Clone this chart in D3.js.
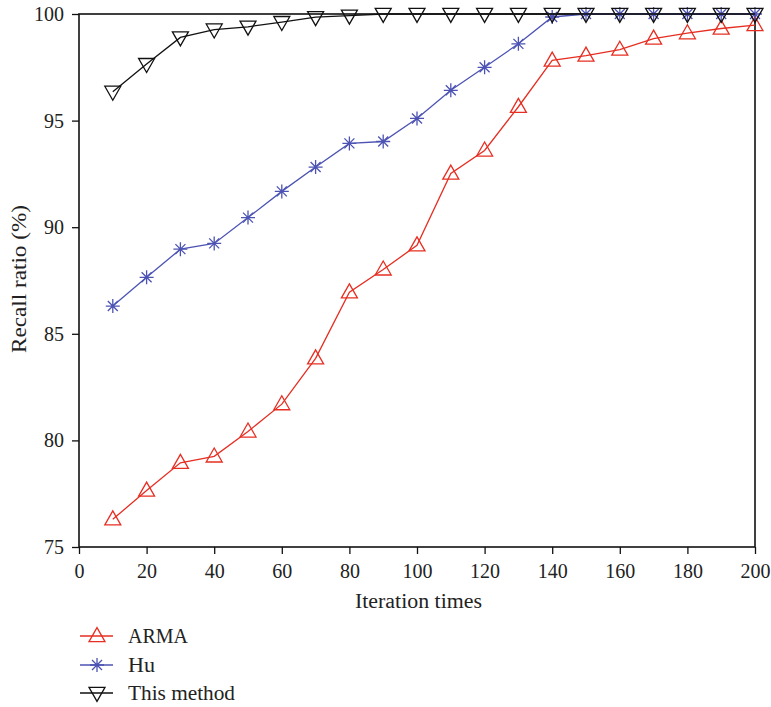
<!DOCTYPE html>
<html><head><meta charset="utf-8">
<script src="https://cdn.jsdelivr.net/npm/d3@7"></script>
<style>body{margin:0;background:#fff}svg{display:block}text{font-family:"Liberation Serif","Times New Roman",serif;fill:#222}</style>
</head><body><svg id="c" width="771" height="707"></svg>
<script>
const iterations = [10,20,30,40,50,60,70,80,90,100,110,120,130,140,150,160,170,180,190,200];
const armaValues = [76.3,77.65,78.95,79.25,80.42,81.7,83.85,86.95,88.02,89.15,92.52,93.6,95.65,97.82,98.05,98.33,98.85,99.1,99.32,99.48];
const huValues = [86.3,87.65,88.97,89.24,90.45,91.68,92.82,93.93,94.02,95.1,96.42,97.5,98.6,99.86,100,100,100,100,100,100];
const thisValues = [96.35,97.65,98.9,99.27,99.4,99.62,99.85,99.92,100,100,100,100,100,100,100,100,100,100,100,100];
const xTicks = [0,20,40,60,80,100,120,140,160,180,200];
const yTicks = [75,80,85,90,95,100];
const seriesNames = ["ARMA","Hu","This method"];

const svg = d3.select("#c");
const L=79, R=755, T=14, B=547;
const x = d3.scaleLinear().domain([0,200]).range([L,R]);
const y = d3.scaleLinear().domain([75,100]).range([B,T]);
const FONT = "Liberation Serif";

const series = [
  {name:seriesNames[0], values:armaValues, color:"#e62e22", marker:"up", tl:60},
  {name:seriesNames[1], values:huValues, color:"#4c53b3", marker:"star", tl:27},
  {name:seriesNames[2], values:thisValues, color:"#111", marker:"down", tl:107}
];

function markerPath(type){
  if(type==="star"){
    const r=7, d=5;
    return `M${-r},0L${r},0M0,${-r}L0,${r}M${-d},${-d}L${d},${d}M${-d},${d}L${d},${-d}`;
  }
  const w=8, h=14;
  if(type==="up") return `M0,${-h*0.6}L${w},${h*0.4}L${-w},${h*0.4}Z`;
  return `M0,${h*0.6}L${w},${-h*0.4}L${-w},${-h*0.4}Z`;
}

// axes
const xAxis = d3.axisBottom(x).tickValues(xTicks).tickSizeOuter(0).tickSizeInner(7).tickPadding(10);
const yAxis = d3.axisLeft(y).tickValues(yTicks).tickSizeOuter(0).tickSizeInner(7).tickPadding(8);
const gx = svg.append("g").attr("transform",`translate(0,${B})`).call(xAxis);
const gy = svg.append("g").attr("transform",`translate(${L},0)`).call(yAxis);
[gx,gy].forEach(g=>{
  g.attr("font-family",FONT).attr("font-size",20);
  g.select(".domain").remove();
  g.selectAll("line").attr("stroke","#111").attr("stroke-width",1.3);
  g.selectAll("text").attr("fill","#222").style("font-family",FONT);
});
// frame
svg.append("rect").attr("x",L).attr("y",T).attr("width",R-L).attr("height",B-T)
  .attr("fill","none").attr("stroke","#111").attr("stroke-width",1.6);

const line = d3.line().x((d,i)=>x(iterations[i])).y(d=>y(d));
series.forEach(s=>{
  const g = svg.append("g");
  g.append("path").attr("d",line(s.values)).attr("fill","none").attr("stroke",s.color).attr("stroke-width",1.3);
  g.selectAll("path.m").data(s.values).join("path").attr("class","m")
    .attr("transform",(d,i)=>`translate(${x(iterations[i])},${y(d)})`)
    .attr("d",markerPath(s.marker)).attr("fill","none").attr("stroke",s.color).attr("stroke-width",1.3);
});

// axis titles
svg.append("text").attr("x",418.5).attr("y",608).attr("text-anchor","middle").style("font-family",FONT)
  .attr("font-size",20).attr("textLength",127).attr("lengthAdjust","spacingAndGlyphs").text("Iteration times");
svg.append("text").attr("transform",`translate(25.5,279) rotate(-90)`).attr("text-anchor","middle").style("font-family",FONT)
  .attr("font-size",20).attr("textLength",148).attr("lengthAdjust","spacingAndGlyphs").text("Recall ratio (%)");

// legend
const ly = [636,665,693];
series.forEach((s,i)=>{
  const g = svg.append("g").attr("transform",`translate(0,${ly[i]})`);
  g.append("line").attr("x1",80).attr("x2",113).attr("stroke",s.color).attr("stroke-width",1.3);
  g.append("path").attr("transform","translate(97,0)").attr("d",markerPath(s.marker)).attr("fill","none").attr("stroke",s.color).attr("stroke-width",1.3);
  g.append("text").attr("x",128).attr("y",7).style("font-family",FONT).attr("font-size",20)
    .attr("textLength",s.tl).attr("lengthAdjust","spacingAndGlyphs").text(s.name);
});
</script></body></html>
